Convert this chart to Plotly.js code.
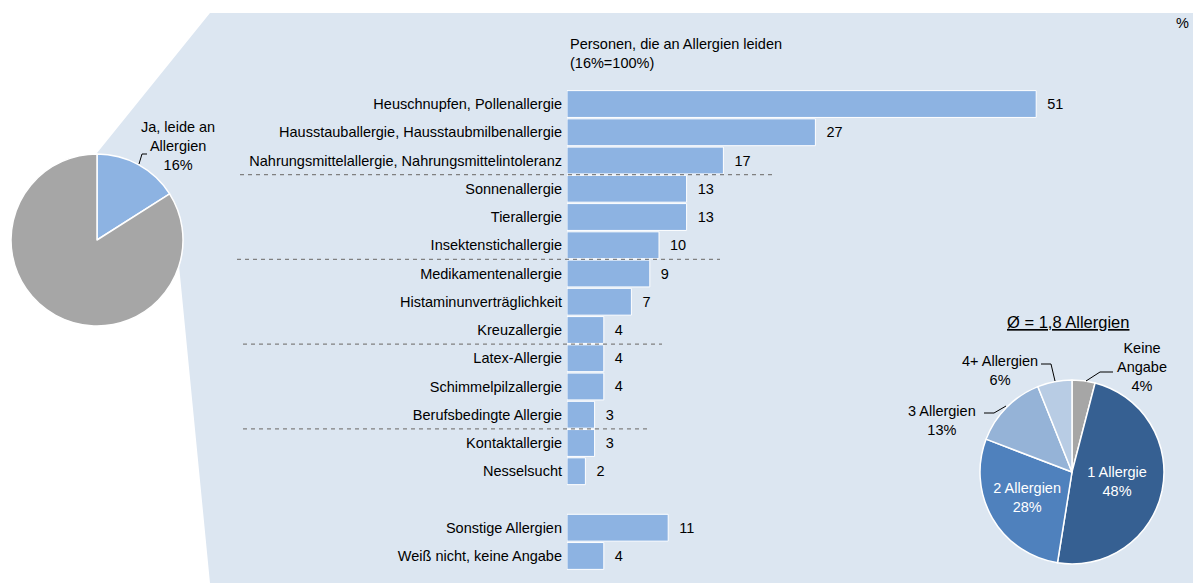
<!DOCTYPE html>
<html><head><meta charset="utf-8">
<script src="https://cdn.plot.ly/plotly-3.0.1.min.js"></script>
<style>html,body{margin:0;padding:0;background:#fff}#chart{width:1193px;height:583px}</style>
</head><body><div id="chart"></div>
<script>
// ---- data ----
const categories = ["Heuschnupfen, Pollenallergie","Hausstauballergie, Hausstaubmilbenallergie","Nahrungsmittelallergie, Nahrungsmittelintoleranz","Sonnenallergie","Tierallergie","Insektenstichallergie","Medikamentenallergie","Histaminunverträglichkeit","Kreuzallergie","Latex-Allergie","Schimmelpilzallergie","Berufsbedingte Allergie","Kontaktallergie","Nesselsucht"," ","Sonstige Allergien","Weiß nicht, keine Angabe"];
const barCats = ["Heuschnupfen, Pollenallergie","Hausstauballergie, Hausstaubmilbenallergie","Nahrungsmittelallergie, Nahrungsmittelintoleranz","Sonnenallergie","Tierallergie","Insektenstichallergie","Medikamentenallergie","Histaminunverträglichkeit","Kreuzallergie","Latex-Allergie","Schimmelpilzallergie","Berufsbedingte Allergie","Kontaktallergie","Nesselsucht","Sonstige Allergien","Weiß nicht, keine Angabe"];
const barValues = [51,27,17,13,13,10,9,7,4,4,4,3,3,2,11,4];

const mainLabels = ["Ja, leide an Allergien","Nein"];
const mainValues = [16,84];

const countLabels = ["Keine Angabe","1 Allergie","2 Allergien","3 Allergien","4+ Allergien"];
const countValues = [4,48,28,13,6];

// ---- helpers ----
const W=1193,H=583;
const px=x=>x/W, py=y=>1-y/H;
const FONT="Liberation Sans, Arial, sans-serif";
const FS=14.5;

const traces=[
 {type:'bar',orientation:'h',y:barCats,x:barValues,text:barValues.map(v=>'\u00a0\u00a0'+v),
  textposition:'outside',cliponaxis:false,
  textfont:{family:FONT,size:FS,color:'#000'},
  marker:{color:'#8db3e2',line:{color:'#ffffff',width:1}},width:0.95,hoverinfo:'skip'},
 {type:'pie',labels:mainLabels,values:mainValues,sort:false,direction:'clockwise',rotation:0,
  marker:{colors:['#8db3e2','#a6a6a6'],line:{color:'#ffffff',width:1.5}},
  textinfo:'none',domain:{x:[px(11),px(183)],y:[py(326),py(154)]},showlegend:false,hoverinfo:'skip'},
 {type:'pie',labels:countLabels,values:countValues,sort:false,direction:'clockwise',rotation:0,
  marker:{colors:['#a6a6a6','#366092','#4f81bd','#95b3d7','#b8cce4'],line:{color:'#ffffff',width:1.5}},
  text:['', countLabels[1]+'<br>'+countValues[1]+'%', countLabels[2]+'<br>'+countValues[2]+'%','',''],
  textinfo:'text',textposition:'inside',insidetextorientation:'horizontal',
  textfont:{family:FONT,size:FS,color:'#ffffff'},
  domain:{x:[px(980),px(1164)],y:[py(564),py(380)]},showlegend:false,hoverinfo:'skip'}
];

const bgPath=`M ${px(97)} ${py(240)} L ${px(97)} ${py(153)} L ${px(210)} ${py(13)} L ${px(1193)} ${py(13)} L ${px(1193)} ${py(583)} L ${px(210)} ${py(583)} L ${px(178)} ${py(255)} Z`;

const shapes=[
 {type:'path',xref:'paper',yref:'paper',path:bgPath,fillcolor:'#dce6f1',line:{width:0},layer:'below'}
];
[[2.5,240,775],[5.5,237,720],[8.5,243,662],[11.5,243,650]].forEach(d=>{
 shapes.push({type:'line',xref:'paper',yref:'y',x0:px(d[1]),x1:px(d[2]),y0:d[0],y1:d[0],
  line:{color:'#808080',width:1.2,dash:'4px,4px'},layer:'above'});
});
// leader lines
const lead=(pts)=>{let p='M '+pts.map(q=>px(q[0])+' '+py(q[1])).join(' L ');
 shapes.push({type:'path',xref:'paper',yref:'paper',path:p,line:{color:'#000',width:1},layer:'above'});};
lead([[139,164],[142,154],[147,154]]);
lead([[1086,381],[1100,372],[1113,372]]);
lead([[1041,364],[1051,364],[1055,381]]);
lead([[984,413],[994,413],[1006,406]]);

const ann=(x,y,text,opts={})=>Object.assign({xref:'paper',yref:'paper',x:px(x),y:py(y),text:text,showarrow:false,
 font:{family:FONT,size:FS,color:'#000'},xanchor:'center',yanchor:'middle'},opts);

const annotations=[
 ann(568,53,'Personen, die an Allergien leiden<br>(16%=100%)',{xanchor:'left',align:'left'}),
 ann(1182,23,'%'),
 ann(178,146,'Ja, leide an<br>Allergien<br>16%'),
 ann(1068,322,'<u>Ø = 1,8 Allergien</u>',{font:{family:FONT,size:16.5,color:'#000'}}),
 ann(1142,367,'Keine<br>Angabe<br>4%'),
 ann(1000,370,'4+ Allergien<br>6%'),
 ann(942,420,'3 Allergien<br>13%')
];

const layout={
 width:W,height:H,margin:{l:0,r:0,t:0,b:0},paper_bgcolor:'#ffffff',plot_bgcolor:'rgba(0,0,0,0)',
 showlegend:false,
 xaxis:{domain:[px(567),px(567+60*9.2)],range:[0,60],visible:false,fixedrange:true},
 yaxis:{domain:[py(570.1),py(89.9)],type:'category',categoryorder:'array',categoryarray:categories,
  range:[16.5,-0.5],showgrid:false,zeroline:false,showline:false,ticks:'',
  tickfont:{family:FONT,size:FS,color:'#000'},ticklabelstandoff:4},
 shapes:shapes,annotations:annotations,
 font:{family:FONT}
};
Plotly.newPlot('chart',traces,layout,{staticPlot:true});
</script></body></html>
